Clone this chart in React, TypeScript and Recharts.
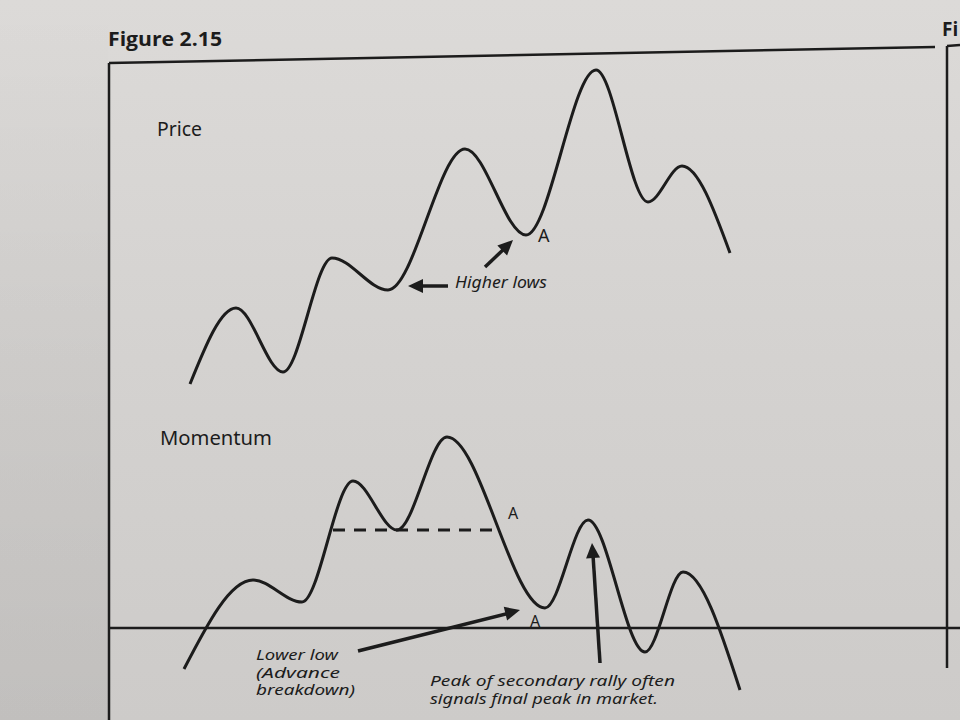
import React from 'react';
import { ComposedChart, Line, XAxis, YAxis, ReferenceLine, ReferenceDot } from 'recharts';

// price swings: time and level of each turning point
const priceTime = [19.0, 23.6, 28.3, 33.2, 38.8, 46.5, 52.6, 59.6, 64.8, 68.2, 73.0];
const priceLevel = [33.6, 41.2, 34.8, 46.2, 43.0, 57.1, 48.5, 65.0, 51.8, 55.4, 46.7];

// momentum oscillator turning points (0 = the centre line)
const momentumTime = [18.4, 25.3, 30.2, 35.3, 39.7, 44.7, 54.5, 58.8, 64.5, 68.3, 74.0];
const momentumValue = [-4.1, 4.8, 2.6, 14.7, 9.8, 19.1, 2.0, 10.8, -2.4, 5.6, -6.2];

// dashed support level on the momentum pane
const supportValue = 9.8;
const supportFrom = 33.3;
const supportTo = 49.2;

const INK = '#1c1c1c';
const PAPER = '#d4d2d0';

const priceData = priceTime.map((t, i) => ({ t, price: priceLevel[i] }));
const momentumData = momentumTime.map((t, i) => ({ t, momentum: momentumValue[i] }));

// triangle arrow head pointing along `angle` (degrees, screen coords)
const arrowHead = (angle: number, len = 15, half = 7) => (props: any) => {
    const { cx, cy } = props;
    const a = (angle * Math.PI) / 180;
    const bx = cx - len * Math.cos(a);
    const by = cy - len * Math.sin(a);
    const px = -Math.sin(a) * half;
    const py = Math.cos(a) * half;
    return <polygon points={`${cx},${cy} ${bx + px},${by + py} ${bx - px},${by - py}`} fill={INK} />;
};

const seg = (x1: number, y1: number, x2: number, y2: number) => [{ x: x1, y: y1 }, { x: x2, y: y2 }];

const labelFont = '"Noto Sans", "Liberation Sans", sans-serif';
const noDot = () => null;

export default function App() {
    return (
        <div style={{ position: 'absolute', left: 0, top: 0, width: 960, height: 720, overflow: 'hidden',
            background: `linear-gradient(180deg, #dcdad8 0%, ${PAPER} 50%, #cdcbc9 100%)` }}>
            {/* page shading left of the figure */}
            <div style={{ position: 'absolute', left: 0, top: 0, width: 108, height: 720,
                background: 'linear-gradient(180deg, rgba(0,0,0,0) 0%, rgba(0,0,0,0.04) 60%, rgba(0,0,0,0.06) 100%)' }} />
            <ComposedChart width={960} height={720} margin={{ top: 0, right: 0, bottom: 0, left: 0 }}>
                <XAxis type="number" dataKey="t" domain={[0, 96]} hide />
                <YAxis yAxisId="price" type="number" domain={[0, 72]} hide />
                <YAxis yAxisId="mom" type="number" domain={[-9.2, 62.8]} hide />

                {/* figure frame */}
                <ReferenceLine yAxisId="price" segment={seg(10.9, 65.7, 93.5, 67.3)} stroke={INK} strokeWidth={2.5} ifOverflow="visible" />
                <ReferenceLine yAxisId="price" segment={seg(10.9, 65.7, 10.9, 0)} stroke={INK} strokeWidth={2.5} ifOverflow="visible" />
                {/* next page frame */}
                <ReferenceLine yAxisId="price" segment={seg(94.7, 67.4, 96, 67.5)} stroke={INK} strokeWidth={2.5} ifOverflow="visible" />
                <ReferenceLine yAxisId="price" segment={seg(94.7, 67.4, 94.7, 5.2)} stroke={INK} strokeWidth={2.5} ifOverflow="visible" />

                {/* momentum centre line and support */}
                <ReferenceLine yAxisId="mom" segment={seg(10.9, 0, 96, 0)} stroke={INK} strokeWidth={2.5} ifOverflow="visible" />
                <ReferenceLine yAxisId="mom" segment={seg(supportFrom, supportValue, supportTo, supportValue)} stroke={INK} strokeWidth={3} strokeDasharray="12 9" ifOverflow="visible" />

                <Line yAxisId="price" data={priceData} dataKey="price" type="monotone" stroke={INK} strokeWidth={3} dot={noDot} activeDot={false} isAnimationActive={false} />
                <Line yAxisId="mom" data={momentumData} dataKey="momentum" type="monotone" stroke={INK} strokeWidth={3} dot={noDot} activeDot={false} isAnimationActive={false} />

                {/* arrows */}
                <ReferenceLine yAxisId="price" segment={seg(44.8, 43.4, 41.8, 43.4)} stroke={INK} strokeWidth={3.5} ifOverflow="visible" />
                <ReferenceDot yAxisId="price" x={40.8} y={43.4} shape={arrowHead(180)} ifOverflow="visible" />
                <ReferenceLine yAxisId="price" segment={seg(48.5, 45.3, 50.5, 47.2)} stroke={INK} strokeWidth={3.5} ifOverflow="visible" />
                <ReferenceDot yAxisId="price" x={51.3} y={48.0} shape={arrowHead(-44)} ifOverflow="visible" />
                <ReferenceLine yAxisId="price" segment={seg(35.8, 6.9, 51.0, 10.7)} stroke={INK} strokeWidth={3.5} ifOverflow="visible" />
                <ReferenceDot yAxisId="price" x={52.0} y={11.0} shape={arrowHead(-14)} ifOverflow="visible" />
                <ReferenceLine yAxisId="price" segment={seg(60.0, 5.7, 59.3, 16.5)} stroke={INK} strokeWidth={3.5} ifOverflow="visible" />
                <ReferenceDot yAxisId="price" x={59.2} y={17.7} shape={arrowHead(-94)} ifOverflow="visible" />
            </ComposedChart>

            <svg width={960} height={720} style={{ position: 'absolute', left: 0, top: 0, pointerEvents: 'none' }}>
                <g fill={INK} fontFamily={labelFont}>
                    <text x={108} y={46} fontFamily='"Open Sans", sans-serif' fontWeight={700} fontSize={19} textLength={114} lengthAdjust="spacingAndGlyphs">Figure 2.15</text>
                    <text x={942} y={36} fontFamily='"Open Sans", sans-serif' fontWeight={700} fontSize={19}>Fi</text>
                    <text x={157} y={136} fontSize={19} textLength={45} lengthAdjust="spacingAndGlyphs">Price</text>
                    <text x={160} y={445} fontSize={19} textLength={112} lengthAdjust="spacingAndGlyphs">Momentum</text>
                    <text x={538} y={242} fontSize={18}>A</text>
                    <text x={508} y={519} fontSize={16}>A</text>
                    <text x={530} y={627} fontSize={16}>A</text>
                    <g fontStyle="italic" fontSize={13.5}>
                        <text x={455} y={288} fontSize={17} textLength={92} lengthAdjust="spacingAndGlyphs">Higher lows</text>
                        <text x={256} y={660} textLength={82} lengthAdjust="spacingAndGlyphs">Lower low</text>
                        <text x={256} y={677.5} textLength={84} lengthAdjust="spacingAndGlyphs">(Advance</text>
                        <text x={256} y={695} textLength={99} lengthAdjust="spacingAndGlyphs">breakdown)</text>
                        <text x={430} y={686} textLength={245} lengthAdjust="spacingAndGlyphs">Peak of secondary rally often</text>
                        <text x={430} y={703.5} textLength={228} lengthAdjust="spacingAndGlyphs">signals final peak in market.</text>
                    </g>
                </g>
            </svg>
        </div>
    );
}
